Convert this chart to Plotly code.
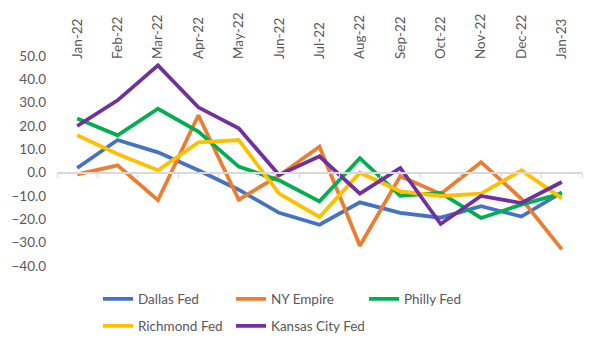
import plotly.graph_objects as go

months = ["Jan-22", "Feb-22", "Mar-22", "Apr-22", "May-22", "Jun-22", "Jul-22",
          "Aug-22", "Sep-22", "Oct-22", "Nov-22", "Dec-22", "Jan-23"]
dallas = [2.0, 14.0, 8.7, 1.0, -7.3, -17.2, -22.3, -12.7, -17.2, -19.3, -14.4, -18.8, -8.4]
ny_empire = [-0.7, 3.1, -11.8, 24.6, -11.6, -1.2, 11.1, -31.3, -1.5, -9.1, 4.5, -11.2, -32.9]
philly = [23.2, 16.0, 27.4, 17.6, 2.6, -3.3, -12.3, 6.2, -9.9, -8.7, -19.4, -13.7, -8.9]
richmond = [16.0, 8.0, 1.0, 13.0, 14.0, -9.0, -19.0, 0.0, -8.0, -10.0, -9.0, 1.0, -11.0]
kansas = [20.0, 31.0, 46.0, 28.0, 19.0, -1.0, 7.0, -9.0, 2.0, -22.0, -10.0, -13.0, -4.0]

series = [
    ("Dallas Fed", dallas, "#4472C4", "legend"),
    ("NY Empire", ny_empire, "#ED7D31", "legend"),
    ("Philly Fed", philly, "#00B050", "legend"),
    ("Richmond Fed", richmond, "#FFC000", "legend2"),
    ("Kansas City Fed", kansas, "#7030A0", "legend2"),
]

fig = go.Figure()
for name, vals, color, lg in series:
    fig.add_trace(go.Scatter(x=months, y=vals, name=name, mode="lines",
                             line=dict(color=color, width=3.8), legend=lg))
# invisible trace carrying the top category labels
fig.add_trace(go.Scatter(x=months, y=dallas, xaxis="x2", mode="lines",
                         line=dict(width=0), opacity=0, showlegend=False, hoverinfo="skip"))

font = dict(family="Lato, 'Open Sans', sans-serif", size=13.5, color="#595959")
ymin, ymax = -40, 50
legend_common = dict(orientation="h", xref="container", yref="container",
                     x=98 / 600, xanchor="left", yanchor="middle",
                     entrywidth=88, entrywidthmode="pixels", font=font,
                     bgcolor="rgba(0,0,0,0)", itemwidth=30)
fig.update_layout(
    width=600, height=338,
    margin=dict(l=57, r=18, t=56, b=72, autoexpand=False),
    paper_bgcolor="white", plot_bgcolor="white",
    font=font,
    showlegend=True,
    xaxis=dict(type="category", categoryarray=months, range=[-0.5, 12.5],
               anchor="free", position=(0 - ymin) / (ymax - ymin),
               showline=True, linecolor="#d9d9d9", linewidth=1.5,
               ticks="outside", tickson="boundaries", ticklen=5, tickcolor="#d9d9d9",
               showticklabels=False, showgrid=False, zeroline=False),
    xaxis2=dict(type="category", categoryarray=months, range=[-0.5, 12.5],
                overlaying="x", side="top", anchor="y",
                showline=False, ticks="", showgrid=False, zeroline=False,
                tickangle=-90, tickfont=font, ticklabelstandoff=-4),
    yaxis=dict(range=[ymin, ymax], tickvals=[-40, -30, -20, -10, 0, 10, 20, 30, 40, 50],
               tickformat=".1f", showgrid=False, zeroline=False, showline=False,
               ticks="", tickfont=font, ticklabelstandoff=10),
    legend=dict(y=1 - 299 / 338, **legend_common),
    legend2=dict(y=1 - 326 / 338, **legend_common),
)

fig.write_html("out.html")
